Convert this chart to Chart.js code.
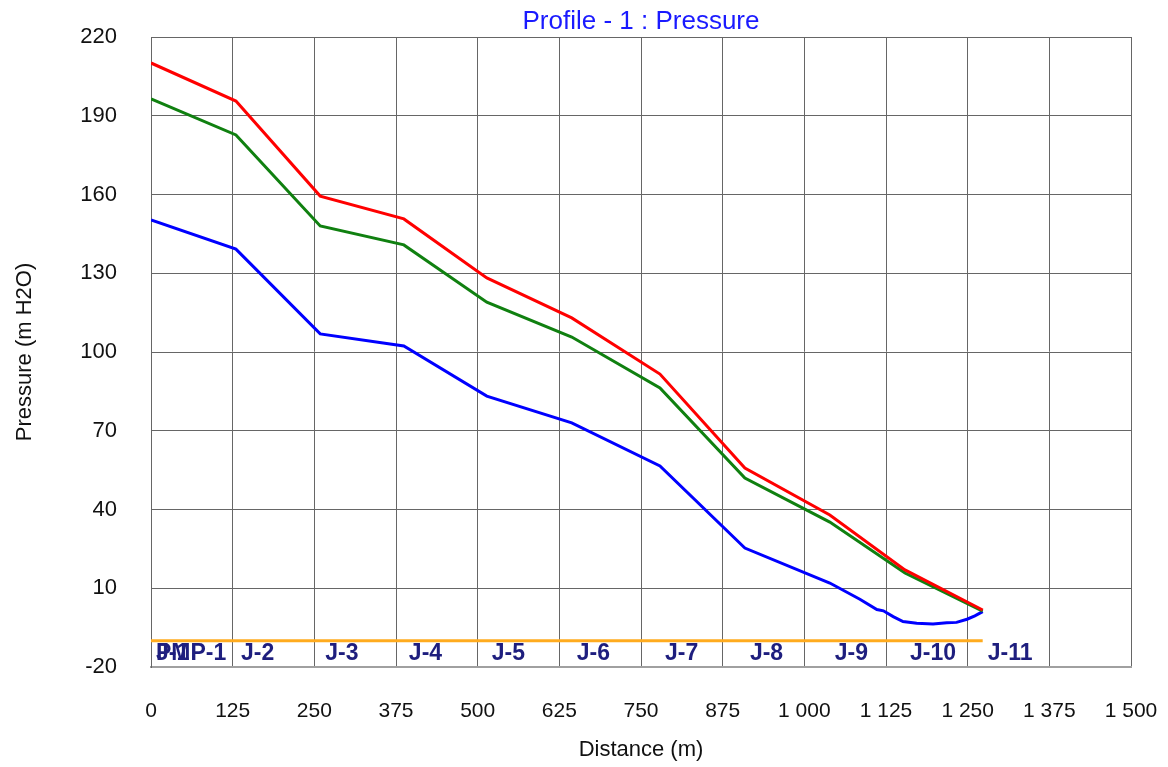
<!DOCTYPE html>
<html>
<head>
<meta charset="utf-8">
<script src="https://cdn.jsdelivr.net/npm/chart.js@4/dist/chart.umd.min.js"></script>
<style>
  html, body { margin: 0; padding: 0; background: #fff; }
  canvas { display: block; }
</style>
</head>
<body>
<canvas id="profile" width="1168" height="767"></canvas>
<script>
// ─── data ────────────────────────────────────────────────────────────────────
const nodeDist   = [0, 130, 259, 387, 514, 644, 779, 909, 1039, 1154, 1273];
const maxHgl     = [210.1, 195.6, 159.4, 150.7, 128.2, 113.0, 91.6, 55.8, 37.9, 17.0, 1.7];
const avgHgl     = [196.4, 182.7, 148.0, 140.8, 119.0, 105.7, 86.3, 52.0, 35.2, 15.8, 1.3];
const minDist    = [0, 130, 259, 387, 514, 644, 779, 909, 1039, 1085, 1111, 1121, 1136,
                    1151, 1172, 1197, 1218, 1233, 1249, 1261, 1273];
const minHgl     = [150.3, 139.2, 106.9, 102.3, 83.2, 73.0, 56.6, 25.3, 12.0, 5.8, 1.9, 1.4, -0.8,
                    -2.7, -3.3, -3.6, -3.1, -3.0, -1.8, -0.5, 1.1];
const groundDist = [0, 1273];
const groundLvl  = [-10, -10];

const labelNames = ['PMP-1', 'J-1', 'J-2', 'J-3', 'J-4', 'J-5', 'J-6', 'J-7', 'J-8', 'J-9', 'J-10', 'J-11'];
const labelDist  = [0, 0, 130, 259, 387, 514, 644, 779, 909, 1039, 1154, 1273];
const labelLevel = -15;

const chartTitle = 'Profile - 1 : Pressure';

const FONT = '"Liberation Sans", Arial, sans-serif';
const pts = (xs, ys) => xs.map((x, i) => ({ x, y: ys[i] }));
const fmtThousands = v => String(v).replace(/\B(?=(\d{3})+(?!\d))/g, ' ');

// node names along the bottom of the plot + title centred over the plot area
const profileText = {
  id: 'profileText',
  afterDatasetsDraw(chart) {
    const { ctx, chartArea, scales: { x, y } } = chart;
    ctx.save();
    ctx.font = 'bold 23px ' + FONT;
    ctx.fillStyle = '#1e1e7e';
    ctx.textAlign = 'left';
    ctx.textBaseline = 'middle';
    labelNames.forEach((n, i) => {
      ctx.fillText(n, x.getPixelForValue(labelDist[i]) + 5, y.getPixelForValue(labelLevel));
    });
    ctx.font = '26px ' + FONT;
    ctx.fillStyle = '#1a1aff';
    ctx.textAlign = 'center';
    ctx.fillText(chartTitle, (chartArea.left + chartArea.right) / 2, 22);
    ctx.restore();
  }
};

const line = (data, color) => ({
  data, borderColor: color, backgroundColor: color, borderWidth: 3,
  showLine: true, pointRadius: 0, tension: 0, fill: false
});

new Chart(document.getElementById('profile'), {
  type: 'scatter',
  data: {
    datasets: [
      line(pts(nodeDist, maxHgl), '#ff0000'),
      line(pts(nodeDist, avgHgl), '#108010'),
      line(pts(minDist, minHgl), '#0000ff'),
      line(pts(groundDist, groundLvl), '#ffab1e')
    ]
  },
  options: {
    responsive: false,
    animation: false,
    devicePixelRatio: 1,
    layout: { padding: { left: 0, right: 37, top: 37, bottom: 0 } },
    plugins: {
      legend: { display: false },
      tooltip: { enabled: false },
      title: { display: false }
    },
    scales: {
      x: {
        type: 'linear', min: 0, max: 1500,
        afterFit: s => { s.height = 100; s.paddingLeft = 0; s.paddingRight = 0; },
        ticks: {
          stepSize: 125, padding: 32, color: '#111', maxRotation: 0,
          font: { family: FONT, size: 21 },
          callback: v => fmtThousands(v)
        },
        grid: { color: '#666', lineWidth: 1, drawTicks: false },
        border: { color: '#a0a0a0', width: 2 },
        title: {
          display: true, text: 'Distance (m)', color: '#111',
          font: { family: FONT, size: 22 }, padding: { top: 0, bottom: 4 }
        }
      },
      y: {
        min: -20, max: 220,
        afterFit: s => { s.width = 151; s.paddingTop = 0; s.paddingBottom = 0; },
        ticks: {
          stepSize: 30, padding: 34, color: '#111',
          font: { family: FONT, size: 22 }
        },
        grid: { color: '#666', lineWidth: 1, drawTicks: false },
        border: { color: '#666', width: 1 },
        title: {
          display: true, text: 'Pressure (m H2O)', color: '#111',
          font: { family: FONT, size: 22 }, padding: { top: 12, bottom: 0 }
        }
      }
    }
  },
  plugins: [profileText]
});
</script>
</body>
</html>
